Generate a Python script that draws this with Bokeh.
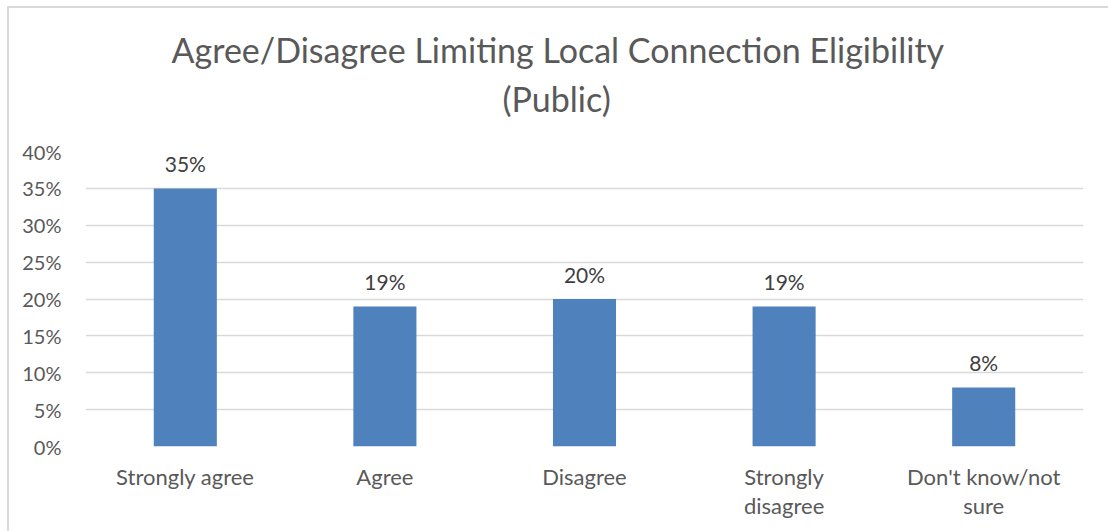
from bokeh.plotting import figure
from bokeh.models import ColumnDataSource, LabelSet, Title, FixedTicker
from bokeh.core.properties import value
from bokeh.embed import file_html
from bokeh.resources import INLINE

# ---- data ----
categories = ["Strongly agree", "Agree", "Disagree", "Strongly disagree", "Don't know/not sure"]
display_categories = ["Strongly agree", "Agree", "Disagree", "Strongly\ndisagree", "Don't know/not\nsure"]
values = [0.35, 0.19, 0.20, 0.19, 0.08]
value_labels = ["35%", "19%", "20%", "19%", "8%"]
y_ticks = [0.0, 0.05, 0.10, 0.15, 0.20, 0.25, 0.30, 0.35, 0.40]
y_tick_labels = ["0%", "5%", "10%", "15%", "20%", "25%", "30%", "35%", "40%"]
title_line1 = "Agree/Disagree Limiting Local Connection Eligibility"
title_line2 = "(Public)"

FONT = "Lato"
TXT = "#595959"
GRID = "#d9d9d9"
BAR = "#4f81bd"

source = ColumnDataSource(dict(cat=display_categories, name=categories, val=values, lab=value_labels))

p = figure(
    x_range=display_categories, y_range=(0, 0.40),
    width=1108, height=531,
    output_backend="svg", toolbar_location=None,
    min_border_left=85, min_border_right=25, min_border_bottom=85, min_border_top=151,
)

p.vbar(x="cat", top="val", width=0.316, source=source, color=BAR, line_color=None)

labels = LabelSet(x="cat", y="val", text="lab", source=source, text_align="center",
                  text_baseline="middle", y_offset=25, text_font=value(FONT),
                  text_font_size=value("21px"), text_color=value("#404040"))
p.add_layout(labels)

# axes
p.yaxis.ticker = FixedTicker(ticks=y_ticks)
p.yaxis.major_label_overrides = {t: l for t, l in zip(y_ticks, y_tick_labels)}
p.yaxis.axis_line_color = None
p.yaxis.major_tick_line_color = None
p.yaxis.minor_tick_line_color = None
p.yaxis.major_label_standoff = 18
p.yaxis.major_label_text_font = FONT
p.yaxis.major_label_text_font_size = "20px"
p.yaxis.major_label_text_color = TXT

p.xaxis.axis_line_color = None
p.xaxis.major_tick_line_color = None
p.xaxis.major_label_standoff = 10
p.xaxis.major_label_text_font = FONT
p.xaxis.major_label_text_font_size = "22px"
p.xaxis.major_label_text_color = TXT
p.xaxis.major_label_text_line_height = 1.1

p.xgrid.grid_line_color = None
p.ygrid.grid_line_color = GRID
p.ygrid.grid_line_width = 1.3
p.outline_line_color = None

# titles (first added sits nearest the frame)
t2 = Title(text=title_line2, align="left", offset=417, text_font=FONT,
           text_font_size="34px", text_font_style="normal", text_color=TXT, standoff=66)
t1 = Title(text=title_line1, align="left", offset=86, text_font=FONT,
           text_font_size="34px", text_font_style="normal", text_color=TXT, standoff=-54)
p.add_layout(t2, "above")
p.add_layout(t1, "above")

p.border_fill_alpha = 0
p.background_fill_color = "white"
p.styles = {
    "background": "linear-gradient(#d9d9d9,#d9d9d9) 7px 6px / 1101px 2px no-repeat, "
                  "linear-gradient(#d9d9d9,#d9d9d9) 7px 6px / 2px 525px no-repeat, white",
}

open("out.html", "w").write(file_html(p, INLINE))
